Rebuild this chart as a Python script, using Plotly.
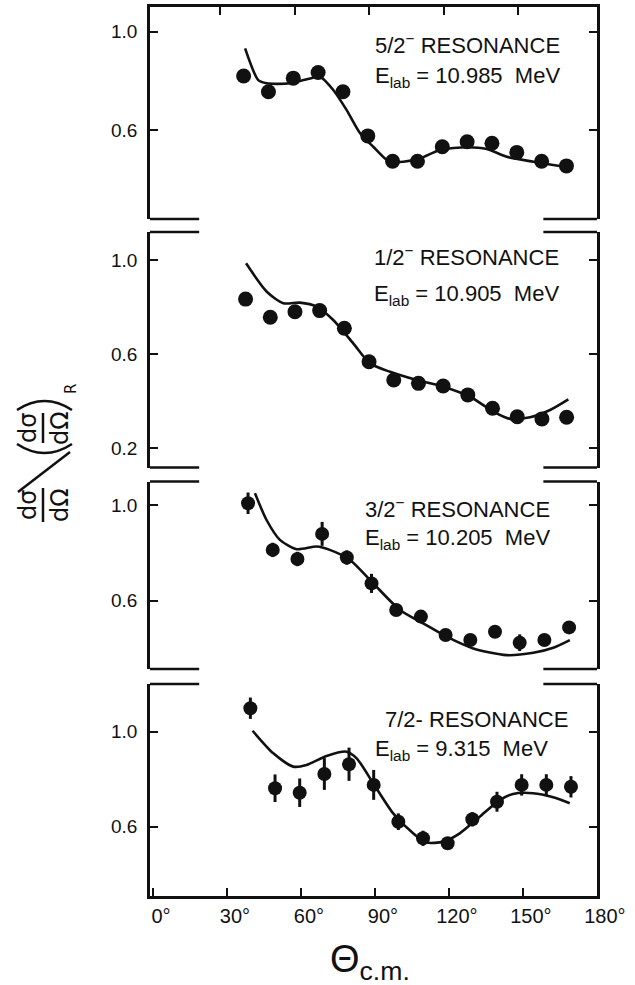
import plotly.graph_objects as go

# ---------------- data ----------------
ANGLES = [39.5, 49.5, 59.5, 69.5, 79.5, 89.5, 99.5, 109.5, 119.5, 129.5, 139.5, 149.5, 159.5, 169.5]

Y_52 = [0.820, 0.756, 0.811, 0.834, 0.756, 0.576, 0.473, 0.473, 0.532, 0.552, 0.546, 0.509, 0.473, 0.454]
FIT_52_X = [40.1, 45.4, 48.8, 58.2, 66.3, 70.3, 75.6, 81.0, 86.4, 91.7, 97.8, 103.8, 110.6, 118.6, 129.4, 137.4, 145.5, 156.2, 168.5]
FIT_52_Y = [0.932, 0.803, 0.790, 0.790, 0.810, 0.817, 0.763, 0.681, 0.587, 0.532, 0.474, 0.471, 0.485, 0.519, 0.530, 0.523, 0.491, 0.471, 0.451]

Y_12 = [0.834, 0.757, 0.780, 0.785, 0.710, 0.568, 0.490, 0.476, 0.465, 0.427, 0.370, 0.334, 0.325, 0.332]
FIT_12_X = [39.7, 48.1, 54.8, 61.5, 68.3, 75.0, 83.1, 89.9, 98.0, 108.8, 119.6, 130.4, 139.8, 146.6, 154.7, 162.8, 170.2]
FIT_12_Y = [0.986, 0.865, 0.816, 0.819, 0.802, 0.745, 0.646, 0.561, 0.525, 0.490, 0.462, 0.419, 0.356, 0.325, 0.332, 0.363, 0.408]

Y_32 = [1.007, 0.812, 0.774, 0.879, 0.780, 0.672, 0.561, 0.533, 0.456, 0.435, 0.470, 0.424, 0.435, 0.488]
ERR_32 = [0.045, 0.03, 0.03, 0.05, 0.03, 0.04, 0.02, 0.02, 0.02, 0.02, 0.02, 0.035, 0.02, 0.02]
FIT_32_X = [42.3, 47.0, 52.4, 59.2, 67.3, 72.6, 80.8, 90.2, 101.0, 110.4, 119.9, 130.7, 144.2, 155.0, 163.1, 169.8]
FIT_32_Y = [1.049, 0.937, 0.854, 0.815, 0.826, 0.812, 0.770, 0.672, 0.561, 0.505, 0.449, 0.400, 0.372, 0.382, 0.403, 0.435]

Y_72 = [1.099, 0.762, 0.743, 0.822, 0.863, 0.776, 0.621, 0.551, 0.530, 0.631, 0.705, 0.776, 0.776, 0.768]
ERR_72 = [0.045, 0.058, 0.06, 0.067, 0.07, 0.063, 0.035, 0.032, 0.025, 0.03, 0.042, 0.045, 0.045, 0.045]
FIT_72_X = [40.4, 48.8, 56.9, 62.3, 70.4, 78.5, 82.6, 89.3, 97.4, 105.5, 110.9, 117.7, 124.4, 132.5, 140.6, 146.0, 154.1, 162.3, 169.0]
FIT_72_Y = [1.004, 0.909, 0.853, 0.860, 0.898, 0.916, 0.888, 0.783, 0.656, 0.572, 0.533, 0.537, 0.572, 0.642, 0.712, 0.738, 0.741, 0.724, 0.699]

TITLES = ["5/2<sup>\u2212</sup> RESONANCE", "1/2<sup>\u2212</sup> RESONANCE",
          "3/2<sup>\u2212</sup> RESONANCE", "7/2- RESONANCE"]
ENERGIES = ["10.985", "10.905", "10.205", "9.315"]
X_TICKS = [0, 30, 60, 90, 120, 150, 180]
X_TICK_TEXT = ["0\u00b0", "30\u00b0", "60\u00b0", "90\u00b0", "120\u00b0", "150\u00b0", "180\u00b0"]

# ---------------- layout geometry ----------------
W, H = 635, 985
L, R, T, B = 150, 38, 7, 89
PW, PH = W - L - R, H - T - B
INK = "#111111"
FONT = "Liberation Sans"


def px(xp):
    return (xp - L) / PW


def py(yp):
    return (H - B - yp) / PH


domains = [[py(219), py(7)], [py(467.5), py(232)], [py(669), py(481.5)], [py(896), py(684)]]
yranges = [[0.238, 1.1005], [0.1185, 1.119], [0.314, 1.098], [0.308, 1.201]]
xranges = [[1.8, 181.8], [0.8, 181.8], [-0.2, 180.8], [-1.2, 180.05]]
yticks = [[0.6, 1.0], [0.2, 0.6, 1.0], [0.6, 1.0], [0.6, 1.0]]

points = [(Y_52, None, 15), (Y_12, None, 15), (Y_32, ERR_32, 14), (Y_72, ERR_72, 14)]
fits = [(FIT_52_X, FIT_52_Y), (FIT_12_X, FIT_12_Y), (FIT_32_X, FIT_32_Y), (FIT_72_X, FIT_72_Y)]

fig = go.Figure()
layout = dict(
    width=W, height=H, margin=dict(l=L, r=R, t=T, b=B),
    paper_bgcolor="white", plot_bgcolor="white", showlegend=False,
    font=dict(family=FONT, color=INK, size=18),
)
shapes = []
annotations = []

for i in range(4):
    n = "" if i == 0 else str(i + 1)
    xa, ya = "x" + n, "y" + n
    yv, err, msize = points[i]
    fx, fy = fits[i]
    fig.add_trace(go.Scatter(x=fx, y=fy, mode="lines", xaxis=xa, yaxis=ya,
                             line=dict(color=INK, width=2.6, shape="spline", smoothing=0.7),
                             hoverinfo="skip"))
    tr = dict(x=ANGLES, y=yv, mode="markers", xaxis=xa, yaxis=ya,
              marker=dict(color=INK, size=msize, line=dict(width=0)))
    if err is not None:
        tr["error_y"] = dict(type="data", array=err, visible=True, color=INK, thickness=3, width=0)
    fig.add_trace(go.Scatter(**tr))

    xaxis = dict(domain=[0, 1], range=xranges[i], anchor=ya, showgrid=False, zeroline=False,
                 showticklabels=False, ticks="", showline=False)
    if i == 0:
        xaxis.update(side="top", showline=True, linecolor=INK, linewidth=2.5,
                     ticks="inside", ticklen=8, tickwidth=2, tickcolor=INK,
                     tickvals=[30, 60, 90, 120, 150])
    if i == 3:
        xaxis.update(showline=True, linecolor=INK, linewidth=2.5,
                     ticks="inside", ticklen=8, tickwidth=2, tickcolor=INK,
                     tickvals=X_TICKS, ticktext=X_TICK_TEXT, showticklabels=True,
                     tickfont=dict(size=20, family=FONT, color=INK), ticklabelshift=8)
    yaxis = dict(domain=domains[i], range=yranges[i], anchor=xa, showgrid=False, zeroline=False,
                 showline=True, mirror="ticks", linecolor=INK, linewidth=2.5,
                 ticks="inside", ticklen=8, tickwidth=2, tickcolor=INK,
                 tickvals=yticks[i], ticktext=["%.1f" % v for v in yticks[i]],
                 tickfont=dict(size=19, family=FONT, color=INK), ticklabelstandoff=6)
    layout["xaxis" + n] = xaxis
    layout["yaxis" + n] = yaxis

    # broken frame segments
    xd, yd = xa + " domain", ya + " domain"
    edges = []
    if i > 0:
        edges.append(1)
    if i < 3:
        edges.append(0)
    for e in edges:
        for (a, b) in [(0, 0.11), (0.88, 1.0)]:
            shapes.append(dict(type="line", xref=xd, yref=yd, x0=a, x1=b, y0=e, y1=e,
                               line=dict(color=INK, width=2.5)))

# panel labels
lab_pos = [((373, 44), (373, 77)), ((372, 256), (372, 295)),
           ((363, 508), (363, 539)), ((383, 719), (373, 750))]
for i in range(4):
    (tx, ty), (ex, ey) = lab_pos[i]
    annotations.append(dict(xref="paper", yref="paper", x=px(tx), y=py(ty), text=TITLES[i],
                            showarrow=False, xanchor="left", yanchor="middle",
                            font=dict(size=22, family=FONT, color=INK)))
    annotations.append(dict(xref="paper", yref="paper", x=px(ex), y=py(ey),
                            text="E<sub>lab</sub> = " + ENERGIES[i] + "\u00a0 MeV",
                            showarrow=False, xanchor="left", yanchor="middle",
                            font=dict(size=22, family=FONT, color=INK)))

# x title
annotations.append(dict(xref="paper", yref="paper", x=px(370), y=py(962),
                        text="\u0398<sub>c.m.</sub>", showarrow=False,
                        xanchor="center", yanchor="middle",
                        font=dict(size=38, family=FONT, color=INK)))

# y title built from pieces (rotated)
def rot_text(t, x, y, size):
    annotations.append(dict(xref="paper", yref="paper", x=px(x), y=py(y), text=t,
                            showarrow=False, textangle=-90, xanchor="center", yanchor="middle",
                            font=dict(size=size, family="DejaVu Sans", color=INK)))


def pline(x0, y0, x1, y1, w=2.5):
    shapes.append(dict(type="line", xref="paper", yref="paper", x0=px(x0), y0=py(y0),
                       x1=px(x1), y1=py(y1), line=dict(color=INK, width=w)))


rot_text("d\u03c3", 28, 505, 24)
pline(43, 488, 43, 522)
rot_text("d\u03a9", 60, 505, 24)
pline(18, 492, 70, 452)
rot_text("d\u03c3", 28, 428, 24)
pline(43, 413, 43, 443)
rot_text("d\u03a9", 60, 428, 24)


def ppath(pts):
    s = "M %f,%f Q %f,%f %f,%f" % (px(pts[0][0]), py(pts[0][1]), px(pts[1][0]), py(pts[1][1]),
                                   px(pts[2][0]), py(pts[2][1]))
    shapes.append(dict(type="path", xref="paper", yref="paper", path=s,
                       line=dict(color=INK, width=2.5)))


ppath([(17, 444), (44.5, 462), (72, 444)])
ppath([(17, 410), (44.5, 392), (72, 410)])
rot_text("R", 71, 389, 15)

layout["shapes"] = shapes
layout["annotations"] = annotations
fig.update_layout(**layout)
fig.write_html("out.html")
